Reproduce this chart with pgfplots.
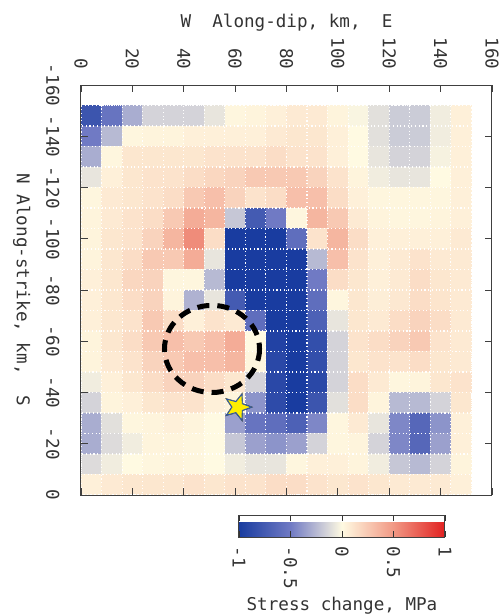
\documentclass[border=0pt]{standalone}
\usepackage{pgfplots}
\pgfplotsset{compat=1.18}
\usepackage{pgfplotstable}
\usepackage{fontspec}
\setmainfont{DejaVu Sans Mono}
\newcommand\fs{\fontsize{17.6}{20}\selectfont}

\pgfdeclareplotmark{star5}{%
 \pgfpathmoveto{\pgfpointpolar{0}{\pgfplotmarksize}}%
 \pgfpathlineto{\pgfpointpolar{36}{0.42\pgfplotmarksize}}%
 \pgfpathlineto{\pgfpointpolar{72}{\pgfplotmarksize}}%
 \pgfpathlineto{\pgfpointpolar{108}{0.42\pgfplotmarksize}}%
 \pgfpathlineto{\pgfpointpolar{144}{\pgfplotmarksize}}%
 \pgfpathlineto{\pgfpointpolar{180}{0.42\pgfplotmarksize}}%
 \pgfpathlineto{\pgfpointpolar{216}{\pgfplotmarksize}}%
 \pgfpathlineto{\pgfpointpolar{252}{0.42\pgfplotmarksize}}%
 \pgfpathlineto{\pgfpointpolar{288}{\pgfplotmarksize}}%
 \pgfpathlineto{\pgfpointpolar{324}{0.42\pgfplotmarksize}}%
 \pgfpathclose
 \pgfusepathqfillstroke}

% stress change, 19 rows (along-strike -148..-4) x 19 columns (along-dip 4..148)
\pgfplotstableread[row sep=\\]{c\\
-0.8\\ -0.55\\ -0.3\\ -0.15\\ -0.15\\ -0.15\\ -0.08\\ 0.02\\ 0.03\\ 0.05\\ 0.08\\ 0.08\\ 0.03\\ -0.02\\ -0.1\\ -0.18\\ -0.18\\ -0.05\\ 0.05\\
-0.5\\ -0.25\\ 0.02\\ 0.03\\ 0.03\\ 0.05\\ 0.05\\ 0.05\\ 0.05\\ 0.08\\ 0.1\\ 0.1\\ 0.05\\ 0.0\\ -0.1\\ -0.18\\ -0.18\\ -0.05\\ 0.05\\
-0.3\\ 0.02\\ 0.1\\ 0.1\\ 0.1\\ 0.1\\ 0.12\\ 0.12\\ 0.12\\ 0.15\\ 0.12\\ 0.12\\ 0.05\\ 0.0\\ -0.08\\ -0.15\\ -0.15\\ -0.03\\ 0.05\\
-0.08\\ 0.05\\ 0.1\\ 0.12\\ 0.12\\ 0.15\\ 0.18\\ 0.2\\ 0.25\\ 0.25\\ 0.25\\ 0.2\\ 0.12\\ 0.03\\ -0.05\\ -0.08\\ -0.08\\ 0.0\\ 0.05\\
0.02\\ 0.08\\ 0.1\\ 0.12\\ 0.15\\ 0.25\\ 0.3\\ 0.2\\ 0.12\\ 0.15\\ 0.3\\ 0.3\\ 0.15\\ 0.05\\ 0.02\\ 0.02\\ 0.02\\ 0.02\\ 0.05\\
0.03\\ 0.08\\ 0.12\\ 0.15\\ 0.25\\ 0.4\\ 0.35\\ -0.2\\ -0.75\\ -0.5\\ 0.02\\ 0.35\\ 0.25\\ 0.08\\ 0.03\\ 0.02\\ 0.02\\ 0.03\\ 0.05\\
0.03\\ 0.1\\ 0.12\\ 0.2\\ 0.35\\ 0.55\\ 0.15\\ -1\\ -1\\ -1\\ -0.6\\ 0.12\\ 0.35\\ 0.15\\ 0.05\\ 0.05\\ 0.05\\ 0.05\\ 0.08\\
0.03\\ 0.1\\ 0.15\\ 0.25\\ 0.25\\ 0.4\\ -0.08\\ -1\\ -1\\ -1\\ -1\\ -0.25\\ 0.3\\ 0.12\\ 0.05\\ 0.08\\ 0.12\\ 0.08\\ 0.08\\
0.05\\ 0.1\\ 0.18\\ 0.2\\ 0.02\\ 0.02\\ -0.25\\ -1\\ -1\\ -1\\ -1\\ -0.5\\ 0.15\\ 0.1\\ 0.05\\ 0.08\\ 0.15\\ 0.1\\ 0.08\\
0.05\\ 0.1\\ 0.15\\ 0.2\\ 0.03\\ -0.28\\ -0.08\\ -0.75\\ -1\\ -1\\ -1\\ -0.6\\ 0.02\\ 0.1\\ 0.06\\ 0.09\\ 0.15\\ 0.11\\ 0.08\\
0.05\\ 0.1\\ 0.12\\ 0.25\\ 0.15\\ 0.05\\ 0.12\\ 0.08\\ -0.6\\ -1\\ -1\\ -0.7\\ -0.08\\ 0.1\\ 0.08\\ 0.15\\ 0.2\\ 0.15\\ 0.08\\
0.03\\ 0.1\\ 0.15\\ 0.25\\ 0.3\\ 0.25\\ 0.3\\ 0.4\\ 0.0\\ -0.95\\ -1\\ -0.85\\ -0.15\\ 0.12\\ 0.15\\ 0.2\\ 0.25\\ 0.12\\ 0.08\\
0.03\\ 0.08\\ 0.12\\ 0.2\\ 0.25\\ 0.3\\ 0.3\\ 0.35\\ 0.02\\ -0.9\\ -1\\ -0.85\\ -0.15\\ 0.1\\ 0.12\\ 0.12\\ 0.15\\ 0.1\\ 0.08\\
-0.05\\ 0.05\\ 0.1\\ 0.15\\ 0.2\\ 0.2\\ 0.15\\ 0.1\\ -0.15\\ -0.9\\ -1\\ -0.9\\ -0.15\\ 0.15\\ 0.08\\ 0.02\\ 0.03\\ 0.1\\ 0.12\\
-0.15\\ 0.03\\ 0.05\\ 0.1\\ 0.12\\ 0.12\\ 0.05\\ 0.03\\ -0.4\\ -0.88\\ -1\\ -0.8\\ -0.1\\ 0.15\\ 0.03\\ -0.25\\ -0.25\\ -0.15\\ 0.1\\
-0.3\\ -0.1\\ 0.02\\ 0.03\\ 0.05\\ 0.03\\ 0.0\\ -0.35\\ -0.55\\ -0.6\\ -0.7\\ -0.45\\ 0.02\\ 0.08\\ -0.08\\ -0.45\\ -0.65\\ -0.4\\ 0.05\\
-0.3\\ -0.12\\ -0.05\\ 0.03\\ 0.03\\ 0.02\\ 0.0\\ -0.2\\ -0.35\\ -0.4\\ -0.35\\ -0.15\\ 0.02\\ 0.03\\ -0.15\\ -0.45\\ -0.65\\ -0.35\\ 0.05\\
-0.12\\ -0.05\\ 0.0\\ 0.02\\ 0.03\\ 0.02\\ 0.0\\ -0.05\\ -0.08\\ -0.08\\ 0.02\\ 0.05\\ 0.05\\ 0.03\\ -0.05\\ -0.2\\ -0.25\\ -0.15\\ 0.03\\
0.05\\ 0.08\\ 0.1\\ 0.1\\ 0.1\\ 0.12\\ 0.1\\ 0.12\\ 0.12\\ 0.15\\ 0.15\\ 0.12\\ 0.1\\ 0.12\\ 0.1\\ 0.08\\ 0.08\\ 0.08\\ 0.05\\
}\stress
\pgfplotstablecreatecol[create col/expr={4+8*mod(\pgfplotstablerow,19)}]{x}{\stress}
\pgfplotstablecreatecol[create col/expr={-148+8*floor((\pgfplotstablerow+0.5)/19)}]{y}{\stress}

\begin{document}
\begin{tikzpicture}
\begin{axis}[
  scale only axis, width=411pt, height=410pt,
  xmin=0, xmax=160, ymin=-160, ymax=0, y dir=reverse,
  axis on top,
  xtick={0,20,...,160}, ytick={-160,-140,...,0},
  xticklabels={0,20,40,60,80,100,120,140,160},
  yticklabels={-160,-140,-120,-100,-80,-60,-40,-20,0},
  xticklabel pos=upper,
  tick align=inside, major tick length=7pt,
  tick style={black!75, line width=0.8pt},
  axis line style={black!75, line width=1pt},
  xticklabel style={rotate=-90, anchor=east, font=\fs, text=black!80},
  yticklabel style={rotate=-90, anchor=north, font=\fs, text=black!80},
  xticklabel shift=12pt, yticklabel shift=18pt,
  xlabel={W~~Along-dip, km,~~E},
  ylabel={N Along-strike, km,~~S},
  ylabel style={rotate=180},
  ylabel shift=9pt,
  label style={font=\fs, text=black!80},
  colormap={stress}{rgb255=(25,60,160) rgb255=(112,122,196) rgb255=(255,250,226) rgb255=(241,152,132) rgb255=(225,32,32)},
  point meta min=-1, point meta max=1,
  colorbar horizontal,
  colorbar style={
    at={(0.3844,-0.0488)}, anchor=north west,
    scale only axis, width=206pt, height=22pt,
    xtick={-1,-0.5,0,0.5,1},
    xticklabels={-1,-0.5,0,0.5,1},
    xticklabel pos=lower,
    tick align=inside, major tick length=6pt,
    tick style={black!80, line width=0.8pt},
    axis line style={black!75, line width=1pt},
    xticklabel style={rotate=-90, anchor=west, font=\fs, text=black!80},
    xticklabel shift=6pt,
    xlabel={Stress change, MPa},
    xlabel style={font=\fs, text=black!80, yshift=-1pt},
  },
]
\addplot[matrix plot*, mesh/cols=19, point meta=explicit]
  table[x=x, y=y, meta=c] {\stress};
% dotted white cell boundaries
\addplot[white, line width=1.1pt, dash pattern=on 1.1pt off 2.6pt, forget plot] coordinates {
(0,-152) (0,0) (8,0) (8,-152) (16,-152) (16,0) (24,0) (24,-152) (32,-152) (32,0) (40,0) (40,-152) (48,-152) (48,0) (56,0) (56,-152) (64,-152) (64,0) (72,0) (72,-152) (80,-152) (80,0) (88,0) (88,-152) (96,-152) (96,0) (104,0) (104,-152) (112,-152) (112,0) (120,0) (120,-152) (128,-152) (128,0) (136,0) (136,-152) (144,-152) (144,0) (152,0) (152,-152)};
\addplot[white, line width=1.1pt, dash pattern=on 1.1pt off 2.6pt, forget plot] coordinates {
(0,-152) (152,-152) (152,-144) (0,-144) (0,-136) (152,-136) (152,-128) (0,-128) (0,-120) (152,-120) (152,-112) (0,-112) (0,-104) (152,-104) (152,-96) (0,-96) (0,-88) (152,-88) (152,-80) (0,-80) (0,-72) (152,-72) (152,-64) (0,-64) (0,-56) (152,-56) (152,-48) (0,-48) (0,-40) (152,-40) (152,-32) (0,-32) (0,-24) (152,-24) (152,-16) (0,-16) (0,-8) (152,-8) (152,0) (0,0)};
\draw[black, line width=5pt, dash pattern=on 12pt off 8pt] (axis cs:51,-57) ellipse [x radius=18.5, y radius=17];
\addplot[only marks, mark=star5, mark size=15pt, mark options={fill={rgb,255:red,110;green,190;blue,110}, draw=none, opacity=0.6}, forget plot] coordinates {(61,-34.3)};
\addplot[only marks, mark=star5, mark size=13.5pt, mark options={fill={rgb,255:red,255;green,238;blue,0}, draw={rgb,255:red,40;green,80;blue,170}, line width=0.8pt}, forget plot] coordinates {(61,-34.3)};
\coordinate (bl) at (axis cs:0,0);
\coordinate (tr) at (axis cs:160,-160);
\end{axis}
\pgfresetboundingbox
\path[use as bounding box] ([shift={(-81pt,-119pt)}]bl) rectangle ([shift={(7pt,85pt)}]tr);
\end{tikzpicture}
\end{document}
